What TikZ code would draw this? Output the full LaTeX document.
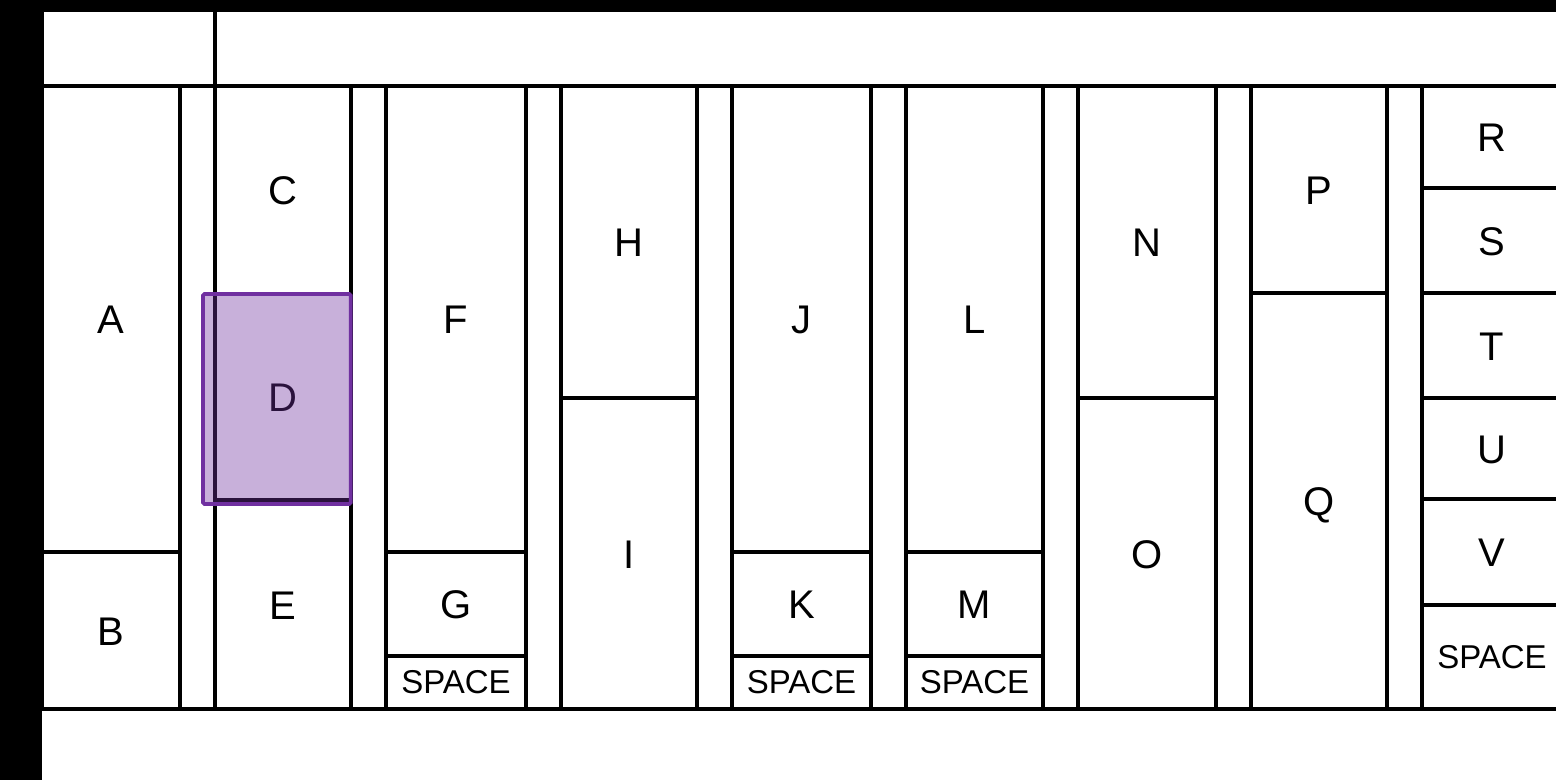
\documentclass[tikz,border=0pt]{standalone}
\usepackage{fontspec}
\setmainfont{Liberation Sans}
\definecolor{hlpurple}{HTML}{7030A0}
\newcommand{\mycell}[6]{%
  \node[cellbox, minimum width={#4-#2}, minimum height={#5-#3}] (#1) at ({(#2+#4)/2},{(#3+#5)/2}) {#6};}
\begin{document}
\begin{tikzpicture}[x=1pt,y=-1pt,
  cellbox/.style={draw=black, line width=3.3pt, inner sep=0pt, outer sep=0pt,
    font=\fontsize{40}{44}\selectfont, text height=29pt, text depth=0pt},
  spacetxt/.style={font=\fontsize{33}{36}\selectfont, text height=23pt},
  hlbox/.style={draw=hlpurple, fill=hlpurple, fill opacity=0.38, draw opacity=1,
    line width=3.8pt, rounded corners=1.5pt, inner sep=0pt, outer sep=0pt}]
\useasboundingbox (0,0) rectangle (1556,780);
\clip (0,0) rectangle (1556,780);
\fill[black] (0,0) rectangle (1556,780);
\fill[white] (42,10) rectangle (1570,790);
% header row
\mycell{hdrA}{42}{10}{215}{86}{}
\mycell{hdrB}{215}{10}{1562}{86}{}
% columns
\mycell{A}{42}{86}{180}{552}{A}
\mycell{B}{42}{552}{180}{709}{B}
\mycell{C}{215}{86}{351}{294}{C}
\mycell{D}{215}{294}{351}{500}{D}
\mycell{E}{215}{500}{351}{709}{E}
\mycell{F}{386}{86}{526}{552}{F}
\mycell{G}{386}{552}{526}{656}{G}
\mycell{sp1}{386}{656}{526}{709}{}
\mycell{H}{561}{86}{697}{398}{H}
\mycell{I}{561}{398}{697}{709}{I}
\mycell{J}{732}{86}{871}{552}{J}
\mycell{K}{732}{552}{871}{656}{K}
\mycell{sp2}{732}{656}{871}{709}{}
\mycell{L}{906}{86}{1043}{552}{L}
\mycell{M}{906}{552}{1043}{656}{M}
\mycell{sp3}{906}{656}{1043}{709}{}
\mycell{N}{1078}{86}{1216}{398}{N}
\mycell{O}{1078}{398}{1216}{709}{O}
\mycell{P}{1251}{86}{1387}{293}{P}
\mycell{Q}{1251}{293}{1387}{709}{Q}
\mycell{R}{1422}{86}{1562}{188}{R}
\mycell{S}{1422}{188}{1562}{293}{S}
\mycell{T}{1422}{293}{1562}{398}{T}
\mycell{U}{1422}{398}{1562}{499}{U}
\mycell{V}{1422}{499}{1562}{605}{V}
\mycell{sp4}{1422}{605}{1562}{709}{}
% SPACE labels
\node[spacetxt] (t1) at (sp1.center) {SPACE};
\node[spacetxt] (t2) at (sp2.center) {SPACE};
\node[spacetxt] (t3) at (sp3.center) {SPACE};
\node[spacetxt] (t4) at (sp4.center) {SPACE};
% bottom line across the gaps
\draw[line width=3.3pt] (B.south west) -- (sp4.south east);
% highlight over D
\node[hlbox, minimum width=147.7pt, minimum height=210pt] (hl) at (276.85,399) {};
\end{tikzpicture}
\end{document}
